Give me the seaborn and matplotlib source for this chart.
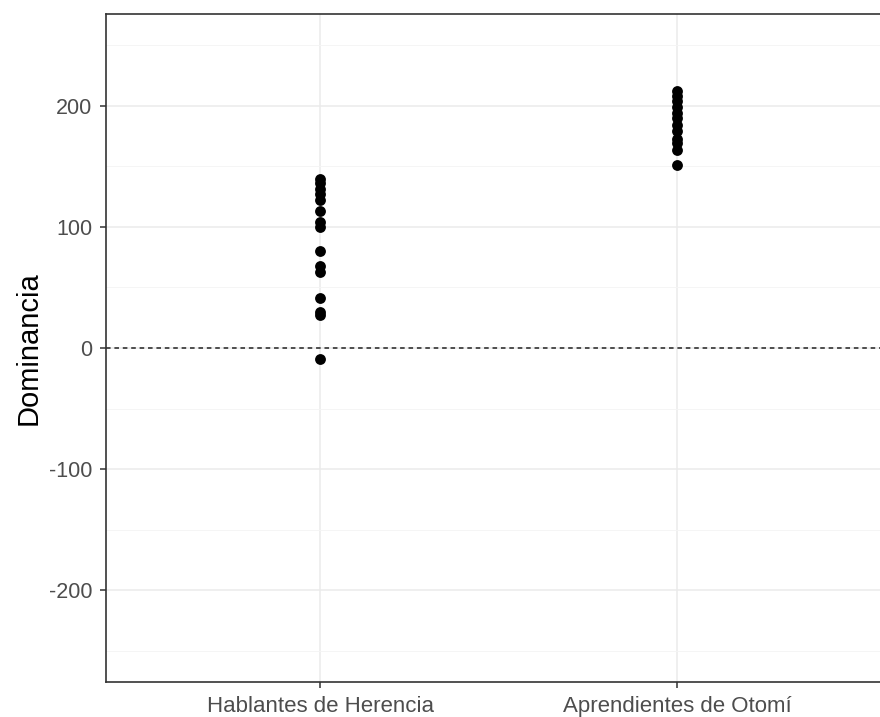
import matplotlib
matplotlib.use("Agg")
import matplotlib.pyplot as plt
import seaborn as sns
import pandas as pd

# Dominance scores per speaker group
grupos = ["Hablantes de Herencia", "Aprendientes de Otomí"]
hablantes_herencia = [140, 136, 131, 127, 122, 113, 104, 100, 80, 68, 63, 41, 30, 27, -9]
aprendientes_otomi = [212, 208, 204, 199, 194, 190, 184, 179, 173, 169, 164, 151]
y_ticks = [-200, -100, 0, 100, 200]
y_tick_labels = ["-200", "-100", "0", "100", "200"]
y_minor = [-250, -150, -50, 50, 150, 250]

df = pd.DataFrame({
    "grupo": [grupos[0]] * len(hablantes_herencia) + [grupos[1]] * len(aprendientes_otomi),
    "dominancia": hablantes_herencia + aprendientes_otomi,
})

sns.set_theme(style="white")
plt.rcParams["font.family"] = ["Liberation Sans", "DejaVu Sans"]

fig = plt.figure(figsize=(8.8, 7.17), dpi=100)
ax = fig.add_axes([106 / 880, 1 - 682 / 717, 785 / 880, 668 / 717])

# reference line at zero
ax.axhline(0, color="#222222", linestyle=(0, (3, 2.5)), linewidth=1.1, zorder=1)

sns.stripplot(data=df, x="grupo", y="dominancia", order=grupos, jitter=False,
              color="black", size=7.8, linewidth=0, ax=ax, zorder=3)

ax.set_xlim(-0.6, 1.6)
ax.set_ylim(-276, 276)
ax.set_yticks(y_ticks)
ax.set_yticklabels(y_tick_labels)
ax.set_yticks(y_minor, minor=True)

ax.grid(True, which="major", color="#EBEBEB", linewidth=1.1, zorder=0)
ax.grid(True, which="minor", axis="y", color="#F4F4F4", linewidth=0.6, zorder=0)
ax.set_axisbelow(True)

for s in ax.spines.values():
    s.set_color("#333333")
    s.set_linewidth(1.2)

ax.tick_params(axis="both", which="major", length=4, width=1.1, color="#333333",
               labelcolor="#4D4D4D", bottom=True, left=True)
ax.tick_params(axis="y", which="minor", length=0)
ax.tick_params(axis="y", labelsize=15.5, pad=6)
ax.tick_params(axis="x", labelsize=16, pad=6)

ax.set_xlabel("")
ax.set_ylabel("Dominancia", fontsize=21, color="black", labelpad=4)

fig.savefig("out.png", dpi=100)
